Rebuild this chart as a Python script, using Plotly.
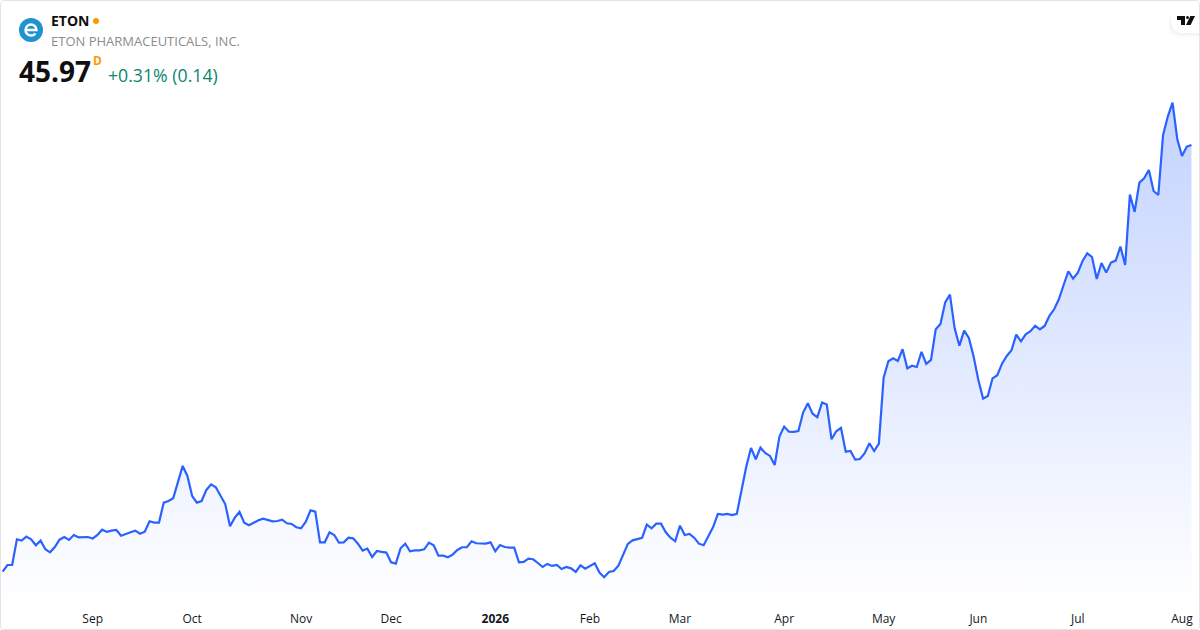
import plotly.graph_objects as go

# daily closes
close_prices = [
    13.97, 14.47, 14.47, 16.40, 16.30, 16.60, 16.40, 15.95, 16.30, 15.65,
    15.42, 15.82, 16.37, 16.57, 16.35, 16.72, 16.55, 16.55, 16.57, 16.45,
    16.72, 17.12, 16.95, 17.05, 17.10, 16.67, 16.82, 16.92, 17.05, 16.82,
    16.97, 17.75, 17.65, 17.65, 19.15, 19.27, 19.47, 20.70, 21.90, 21.15,
    19.65, 19.15, 19.27, 20.10, 20.52, 20.30, 19.65, 19.02, 17.37, 18.02,
    18.45, 17.65, 17.45, 17.65, 17.82, 17.95, 17.85, 17.75, 17.77, 17.87,
    17.60, 17.55, 17.30,
    17.22, 17.72, 18.57, 18.47, 16.17, 16.17, 16.92, 16.72, 16.15, 16.17,
    16.52, 16.47, 16.07, 15.55, 15.70, 15.07, 15.52, 15.45, 15.40, 14.67,
    14.57, 15.72, 16.07, 15.50, 15.57, 15.57, 15.65, 16.15, 15.95, 15.17,
    15.17, 15.05, 15.25, 15.60, 15.80, 15.80, 16.25, 16.10, 16.07, 16.07,
    16.17, 15.50, 15.97, 15.82, 15.77, 15.77, 14.67, 14.70, 14.95, 14.90,
    14.62, 14.32, 14.55, 14.40, 14.47, 14.17, 14.32, 14.22, 13.95, 14.45,
    14.20, 14.37, 14.60, 13.90,
    13.55, 13.95, 14.02, 14.42, 15.22, 16.05, 16.32, 16.42, 16.50, 17.50,
    17.22, 17.57, 17.57, 16.92, 16.52, 16.25, 17.42, 16.72, 16.80, 16.52,
    16.07, 15.95, 16.62, 17.32, 18.30, 18.25, 18.30, 18.22, 18.30, 20.22,
    21.85, 23.25, 22.40, 23.27, 22.87, 22.65, 21.97, 24.10, 24.85, 24.47,
    24.45, 24.52, 25.90, 26.60, 25.82, 25.55, 26.65, 26.50, 23.90, 24.50,
    24.75, 22.97, 23.02, 22.37, 22.42, 22.85, 23.60, 23.02, 23.57,
    28.52, 29.75, 29.97, 29.77, 30.65, 29.22, 29.42, 29.32, 30.45, 29.55,
    29.85, 32.15, 32.55, 34.17, 34.75, 32.22, 30.92, 32.05, 31.50, 30.10,
    28.35, 26.95, 27.15, 28.47, 28.70, 29.57, 30.15, 30.57, 31.75, 31.25,
    31.77, 32.00, 32.42, 32.15, 32.40, 33.15, 33.65,
    34.40, 35.47, 36.50, 35.95, 36.40, 37.27, 37.85, 37.57, 35.92, 37.12,
    36.40, 37.15, 37.30, 38.35, 36.97, 42.25, 40.95, 43.15, 43.47, 44.10,
    42.52, 42.22, 46.72, 48.10, 49.15, 46.42, 45.15, 45.85, 45.97,
]
month_positions = [19, 40, 63, 82, 104, 124, 143, 165, 186, 206, 227, 249]
month_labels = ["Sep", "Oct", "Nov", "Dec", "<b>2026</b>", "Feb", "Mar", "Apr", "May", "Jun", "Jul", "Aug"]

W, H = 1200, 630
FONT = "Open Sans"
BLUE = "#2962ff"
INK = "#0f0f0f"


def px(x):
    return x / W


def py(y):
    return 1 - y / H


def pt(x, y):
    return f"{px(x):.5f},{py(y):.5f}"


def shape_path(points):
    return "M " + " L ".join(pt(x, y) for x, y in points) + " Z"


def pill(x0, y0, x1, y1, r):
    # rounded on the left side only, runs off to the right
    return (
        f"M {pt(x1, y0)} L {pt(x0 + r, y0)} Q {pt(x0, y0)} {pt(x0, y0 + r)} "
        f"L {pt(x0, y1 - r)} Q {pt(x0, y1)} {pt(x0 + r, y1)} L {pt(x1, y1)} Z"
    )


def rounded_box(x0, y0, x1, y1, r):
    return (
        f"M {pt(x0 + r, y0)} L {pt(x1 - r, y0)} Q {pt(x1, y0)} {pt(x1, y0 + r)} "
        f"L {pt(x1, y1 - r)} Q {pt(x1, y1)} {pt(x1 - r, y1)} "
        f"L {pt(x0 + r, y1)} Q {pt(x0, y1)} {pt(x0, y1 - r)} "
        f"L {pt(x0, y0 + r)} Q {pt(x0, y0)} {pt(x0 + r, y0)} Z"
    )


def logo_e():
    # ring with a crossbar, open at the lower right
    return (
        f"M {pt(25.5, 30)} L {pt(36.5, 30)} "
        f"C {pt(36.5, 27)} {pt(34, 24.5)} {pt(31, 24.5)} "
        f"C {pt(28, 24.5)} {pt(25.5, 27)} {pt(25.5, 30)} "
        f"C {pt(25.5, 33)} {pt(28, 35.5)} {pt(31, 35.5)} "
        f"C {pt(32.8, 35.5)} {pt(34.4, 34.7)} {pt(35.4, 33.4)}"
    )


def label(x, y, text, size, color, bold=False):
    if bold:
        text = f"<b>{text}</b>"
    return dict(
        x=px(x), y=py(y), xref="paper", yref="paper", text=text, showarrow=False,
        xanchor="left", yanchor="middle", align="left",
        font=dict(family=FONT, size=size, color=color), borderpad=0, borderwidth=0,
    )


fig = go.Figure()
fig.add_trace(go.Scatter(
    x=list(range(len(close_prices))),
    y=close_prices,
    mode="lines",
    line=dict(color=BLUE, width=2.2),
    fill="tozeroy",
    fillgradient=dict(
        type="vertical",
        start=11.5,
        stop=49.2,
        colorscale=[[0, "rgba(41,98,255,0)"], [1, "rgba(41,98,255,0.28)"]],
    ),
    hoverinfo="skip",
    showlegend=False,
))

shapes = [
    dict(type="path", xref="paper", yref="paper", path=rounded_box(0.5, 0.5, 1199.5, 629.5, 4),
         line=dict(color="#e4e4e4", width=1), fillcolor="rgba(0,0,0,0)"),
    # company logo and status dot
    dict(type="circle", xref="paper", yref="paper", x0=px(19), x1=px(43), y0=py(18), y1=py(42),
         line=dict(width=0), fillcolor="#1f93d0"),
    dict(type="path", xref="paper", yref="paper", path=logo_e(),
         line=dict(color="#ffffff", width=2.4), fillcolor="rgba(0,0,0,0)"),
    dict(type="circle", xref="paper", yref="paper", x0=px(93), x1=px(99), y0=py(18), y1=py(24),
         line=dict(width=0), fillcolor="#ff9800"),
    # TradingView badge, soft shadow below it
    dict(type="path", xref="paper", yref="paper", path=pill(1168, 11, 1199, 38, 14),
         line=dict(width=0), fillcolor="rgba(0,0,0,0.012)"),
    dict(type="path", xref="paper", yref="paper", path=pill(1169, 11, 1199, 36, 13),
         line=dict(width=0), fillcolor="rgba(0,0,0,0.016)"),
    dict(type="path", xref="paper", yref="paper", path=pill(1170, 10, 1199, 35, 12),
         line=dict(width=0), fillcolor="rgba(0,0,0,0.02)"),
    dict(type="path", xref="paper", yref="paper", path=pill(1171, 9, 1199, 33, 12),
         line=dict(width=0), fillcolor="#ffffff"),
    dict(type="path", xref="paper", yref="paper",
         path=shape_path([(1177, 16), (1185, 16), (1185, 25), (1181, 25), (1181, 20), (1177, 20)]),
         line=dict(width=0), fillcolor=INK),
    dict(type="circle", xref="paper", yref="paper", x0=px(1186), x1=px(1189), y0=py(16), y1=py(19),
         line=dict(width=0), fillcolor=INK),
    dict(type="path", xref="paper", yref="paper",
         path=shape_path([(1190.4, 16), (1195, 16), (1190.6, 25), (1186, 25)]),
         line=dict(width=0), fillcolor=INK),
]

annotations = [
    label(51, 21, "ETON", 14, INK, bold=True),
    label(51, 41, "ETON PHARMACEUTICALS, INC.", 13, "#8c8c8c"),
    label(19, 71, "45.97", 28, INK, bold=True),
    label(93, 61, "D", 12, "#ff9800", bold=True),
    label(108, 75, "+0.31% (0.14)", 17.7, "#0b8570"),
]

fig.update_layout(
    width=W,
    height=H,
    margin=dict(l=0, r=0, t=0, b=0),
    paper_bgcolor="#ffffff",
    plot_bgcolor="rgba(0,0,0,0)",
    shapes=shapes,
    annotations=annotations,
    xaxis=dict(
        range=[-0.57, 252.8],
        tickmode="array",
        tickvals=month_positions,
        ticktext=month_labels,
        showgrid=False,
        zeroline=False,
        showline=False,
        ticks="",
        ticklabelstandoff=6,
        tickfont=dict(family=FONT, size=12, color="#131722"),
        automargin=False,
    ),
    yaxis=dict(
        domain=[26 / H, 1],
        range=[11.545, 56.845],
        visible=False,
        showgrid=False,
        zeroline=False,
        automargin=False,
    ),
)

fig.write_html("out.html", config=dict(displayModeBar=False),
               post_script="document.body.style.margin='0';document.body.style.overflow='hidden';")
